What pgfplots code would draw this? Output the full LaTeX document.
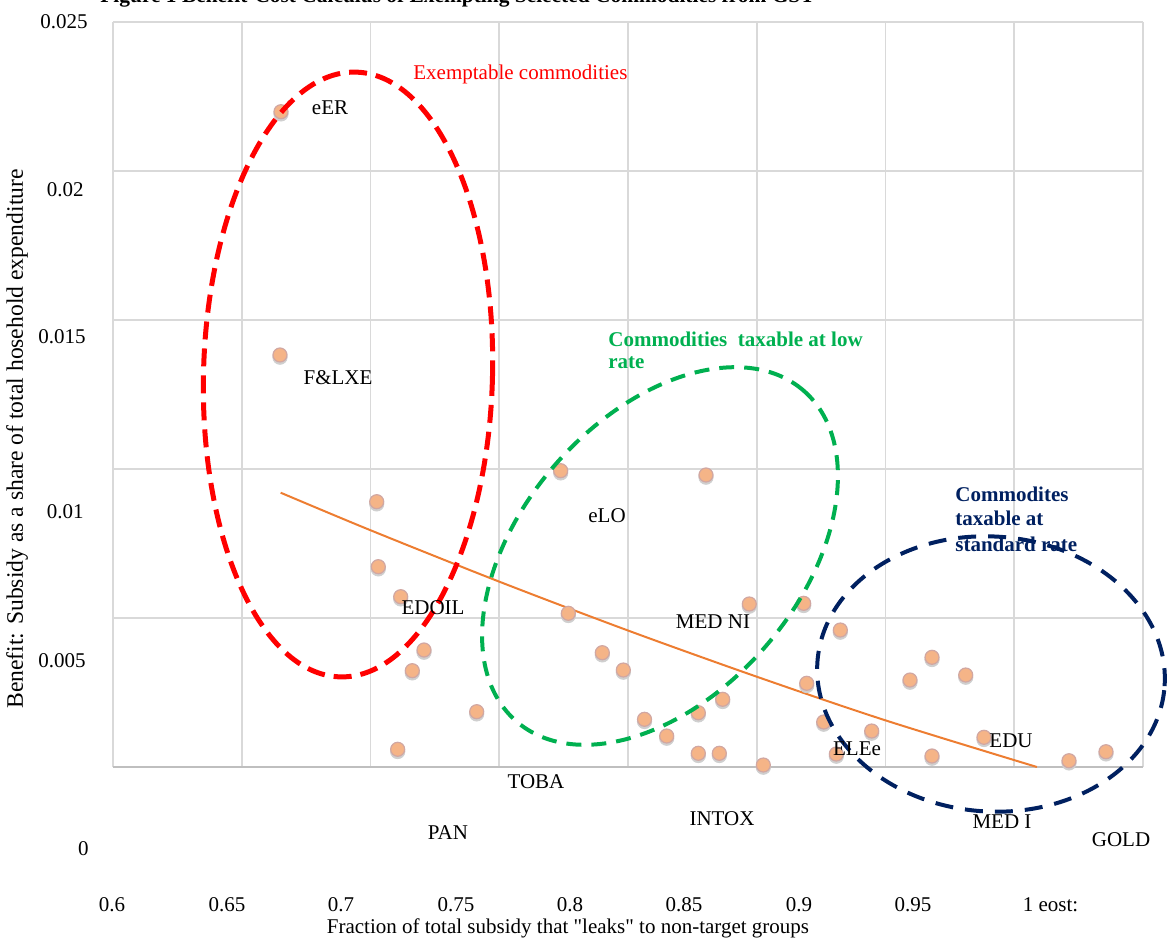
\documentclass[border=0pt]{standalone}
\usepackage{pgfplots}
\pgfplotsset{compat=1.18}
\usepackage{pgfplotstable}
\usepackage{fontspec}
\setmainfont{Liberation Serif}[Ligatures=TeXOff]
\definecolor{peach}{HTML}{F5B487}
\definecolor{peachedge}{HTML}{D1A7A2}
\definecolor{shadowgray}{HTML}{CFCFCF}
\definecolor{trendorange}{HTML}{ED7D31}
\definecolor{gridgray}{HTML}{D9D9D9}
\definecolor{axisgray}{HTML}{BFBFBF}
\definecolor{exred}{HTML}{FF0000}
\definecolor{lowgreen}{HTML}{00B050}
\definecolor{stdnavy}{HTML}{002060}

\pgfplotstableread{
x y
0.66524 0.021990
0.66485 0.013826
0.70241 0.008903
0.70303 0.006722
0.71173 0.005715
0.72078 0.003926
0.71623 0.003232
0.74124 0.001856
0.71056 0.000594
0.77386 0.009943
0.77682 0.005158
0.79002 0.003836
0.79818 0.003255
0.80641 0.001601
0.81503 0.001040
0.82730 0.001822
0.83677 0.002272
0.82730 0.000460
0.83546 0.000460
0.83029 0.009799
0.84711 0.005470
0.85255 0.000067
0.86823 0.005493
0.86940 0.002809
0.87600 0.001510
0.88090 0.000436
0.88245 0.004597
0.89464 0.001208
0.90951 0.002919
0.91806 0.003681
0.91806 0.000369
0.93115 0.003087
0.93825 0.000997
0.97126 0.000211
0.98563 0.000513
}\pointdata

\pgfplotstableread{
x y
0.6651 0.009205
0.70 0.007945
0.75 0.00622
0.80 0.00458
0.85 0.00303
0.90 0.001565
0.9588 0.0
}\trenddata

\begin{document}
\begin{tikzpicture}
\path[use as bounding box] (0,0) rectangle (583.5pt,-470.5pt);
\clip (0,0) rectangle (583.5pt,-470.5pt);
\begin{axis}[
  at={(56.5pt,-11pt)}, anchor=north west,
  scale only axis, width=515pt, height=372.5pt,
  xmin=0.6, xmax=1.0, ymin=0, ymax=0.025,
  xtick={0.6,0.65,0.7,0.75,0.8,0.85,0.9,0.95,1.0},
  ytick={0,0.005,0.01,0.015,0.02,0.025},
  xticklabels={}, yticklabels={},
  major tick length=0pt,
  grid=major,
  major grid style={draw=gridgray, line width=0.9pt},
  axis line style={draw=none},
  clip=false,
]
\draw[axisgray, line width=1pt] (rel axis cs:0,0) -- (rel axis cs:1,0);
% soft shadow below the markers
\addplot[only marks, mark=*, color=shadowgray, mark size=3.6pt,
  mark options={color=shadowgray, fill=shadowgray, yshift=-1.1pt}] table {\pointdata};
% markers
\addplot[only marks, mark=*, color=peachedge, mark size=3.5pt,
  mark options={draw=peachedge, fill=peach, line width=0.6pt}] table {\pointdata};
% trend line
\addplot[trendorange, line width=1pt, smooth, no marks] table {\trenddata};
\end{axis}

\begin{scope}[x=0.5pt, y=-0.5pt,
  every node/.style={font=\fontsize{10.5}{12.6}\selectfont, inner sep=0pt}]
% ellipses
\draw[exred, line width=2.5pt, dash pattern=on 9pt off 4.5pt,
  rotate around={-1.5:(348,374.5)}] (348,374.5) ellipse [x radius=72.25pt, y radius=151.25pt];
\draw[lowgreen, line width=2pt, dash pattern=on 7.5pt off 5pt,
  rotate around={49:(660,556)}] (660,556) ellipse [x radius=109.5pt, y radius=69.5pt];
\draw[stdnavy, line width=2pt, dash pattern=on 9pt off 6pt,
  rotate around={-4:(991,674)}] (991,674) ellipse [x radius=87pt, y radius=68.75pt];

% annotations
\node[anchor=west, text=exred] at (413,74) {Exemptable commodities};
\node[anchor=west, text=lowgreen, font=\fontsize{10.5}{12.6}\selectfont\bfseries] at (608,339) {Commodities\ \ taxable at low};
\node[anchor=west, text=lowgreen, font=\fontsize{10.5}{12.6}\selectfont\bfseries] at (608,363) {rate};
\node[anchor=west, text=stdnavy, font=\fontsize{10.5}{12.6}\selectfont\bfseries] at (955,494) {Commodites};
\node[anchor=west, text=stdnavy, font=\fontsize{10.5}{12.6}\selectfont\bfseries] at (955,518) {taxable at};
\node[anchor=west, text=stdnavy, font=\fontsize{10.5}{12.6}\selectfont\bfseries] at (955,544) {standard rate};

% data labels
\node at (330,108) {eER};
\node at (338,378) {F\&LXE};
\node at (433,608) {EDOIL};
\node at (607,516) {eLO};
\node at (713,622) {MED NI};
\node at (536,782) {TOBA};
\node at (448,833) {PAN};
\node at (722,819) {INTOX};
\node at (857,749) {ELEe};
\node at (1011,741) {EDU};
\node at (1002,822) {MED I};
\node at (1121,840) {GOLD};

% tick labels
\node at (112,905) {0.6};
\node at (227,905) {0.65};
\node at (341,905) {0.7};
\node at (456,905) {0.75};
\node at (570,905) {0.8};
\node at (684,905) {0.85};
\node at (799,905) {0.9};
\node at (913,905) {0.95};
\node at (1028,905) {1\rlap{ eost:}};
\node[anchor=east] at (88,22) {0.025};
\node[anchor=east] at (84,190) {0.02};
\node[anchor=east] at (86,337) {0.015};
\node[anchor=east] at (84,512) {0.01};
\node[anchor=east] at (86,661) {0.005};
\node[anchor=east] at (89,849) {0};

% axis titles
\node at (568,928) {Fraction of total subsidy that "leaks" to non-target groups};
\node[rotate=90, font=\fontsize{11.8}{13}\selectfont] at (17,439) {Benefit: Subsidy as a share of total hosehold expenditure};
\node[anchor=base west, font=\fontsize{10.7}{12.6}\selectfont\bfseries] at (100,3) {Figure 1 Benefit-Cost Calculus of Exempting Selected Commodities from GST};
\end{scope}
\end{tikzpicture}
\end{document}
